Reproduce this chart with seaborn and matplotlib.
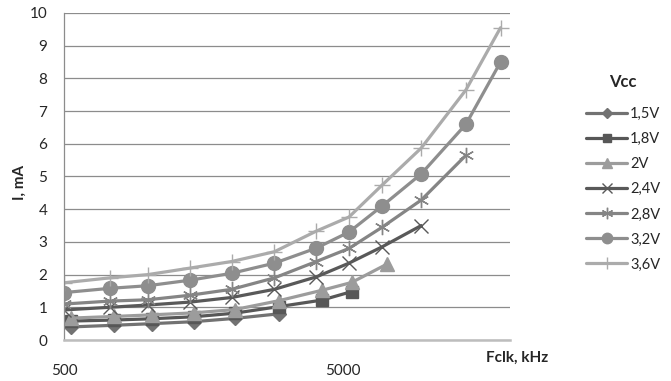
import numpy as np
import pandas as pd
import matplotlib
matplotlib.use("Agg")
import matplotlib.pyplot as plt
import seaborn as sns

sns.set_theme(style="white")
plt.rcParams["font.family"] = ["Lato", "DejaVu Sans"]

# Frequencies (kHz)
freq_hi = [500, 730, 1000, 1420, 2000, 2850, 4030, 5280, 6950, 9600, 13900, 18500]
freq_lo = [530, 755, 1035, 1460, 2050, 2950, 4220, 5400, 7230]

# Supply current (mA) for each Vcc
i_15 = [0.40, 0.45, 0.50, 0.56, 0.66, 0.80]
i_18 = [0.58, 0.61, 0.65, 0.71, 0.82, 1.02, 1.22, 1.48]
i_20 = [0.67, 0.72, 0.77, 0.83, 0.93, 1.20, 1.52, 1.76, 2.32]
i_24 = [0.92, 1.00, 1.07, 1.16, 1.30, 1.55, 1.93, 2.35, 2.85, 3.50]
i_28 = [1.10, 1.19, 1.23, 1.37, 1.55, 1.90, 2.40, 2.80, 3.45, 4.28, 5.65]
i_32 = [1.45, 1.58, 1.66, 1.83, 2.04, 2.35, 2.81, 3.30, 4.10, 5.08, 6.60, 8.50]
i_36 = [1.75, 1.90, 2.00, 2.20, 2.40, 2.70, 3.33, 3.76, 4.74, 5.87, 7.65, 9.55]

labels = ["1,5V", "1,8V", "2V", "2,4V", "2,8V", "3,2V", "3,6V"]
series = [(freq_lo, i_15), (freq_lo, i_18), (freq_lo, i_20), (freq_hi, i_24),
          (freq_hi, i_28), (freq_hi, i_32), (freq_hi, i_36)]
colors = ["#727272", "#575757", "#9c9c9c", "#595959", "#858585", "#8e8e8e", "#ababab"]
markers = ["D", "s", "^", "x", (6, 2, 0), "o", "+"]
msizes = [7, 8.5, 10, 10, 11, 10, 12]

x_ticks = [500 * k for k in range(1, 11)] + [10000, 15000, 20000]
x_tick_labels = ["500" if t == 500 else "5000" if t == 5000 else "" for t in x_ticks]

fig = plt.figure(figsize=(6.71, 3.81), dpi=100)
ax = fig.add_axes([0.0954, 0.1076, 0.6646, 0.8583])

for (fx, iy), lab, c, m, ms in zip(series, labels, colors, markers, msizes):
    df = pd.DataFrame({"f": fx[:len(iy)], "i": iy})
    sns.lineplot(data=df, x="f", y="i", ax=ax, color=c, marker=m, markersize=ms,
                 linewidth=2.3, markeredgecolor=c, markeredgewidth=1.0,
                 label=lab, estimator=None, sort=False)

ax.set_xscale("log")
ax.set_xlim(500, 20000)
ax.set_ylim(0, 10)
ax.set_xticks(x_ticks)
ax.set_xticklabels(x_tick_labels)
ax.xaxis.set_minor_locator(matplotlib.ticker.NullLocator())
ax.set_yticks(range(0, 11))
ax.tick_params(axis="x", direction="in", length=3.5, color="#8c8c8c", width=0.8,
               pad=17, labelsize=11, labelcolor="#262626")
ax.tick_params(axis="y", length=0, pad=12, labelsize=11, labelcolor="#262626")
ax.grid(axis="y", color="#8c8c8c", linewidth=0.9)
ax.grid(axis="x", visible=False)
ax.set_axisbelow(True)
for s in ["top", "right"]:
    ax.spines[s].set_visible(False)
ax.spines["left"].set_color("#8c8c8c")
ax.spines["left"].set_linewidth(0.9)
ax.spines["bottom"].set_color("#bdbdbd")
ax.spines["bottom"].set_linewidth(1.8)
ax.set_xlabel("")
ax.set_ylabel("")

fig.text(0.771, 0.06, "Fclk, kHz", fontsize=11, fontweight="bold",
         ha="center", va="center", color="#262626")
fig.text(0.03, 0.52, "I, mA", fontsize=11, fontweight="bold", rotation=90,
         ha="center", va="center", color="#262626")

leg = ax.legend(loc="upper left", bbox_to_anchor=(0.865, 0.82),
                bbox_transform=fig.transFigure, frameon=False, fontsize=10.5,
                title="Vcc", handlelength=2.8, handletextpad=0.2,
                labelspacing=0.76, markerscale=0.75, borderaxespad=0)
leg.get_title().set_fontweight("bold")
leg.get_title().set_fontsize(12)
leg._legend_box.align = "center"
leg._legend_box.sep = 12

fig.savefig("out.png", dpi=100)
